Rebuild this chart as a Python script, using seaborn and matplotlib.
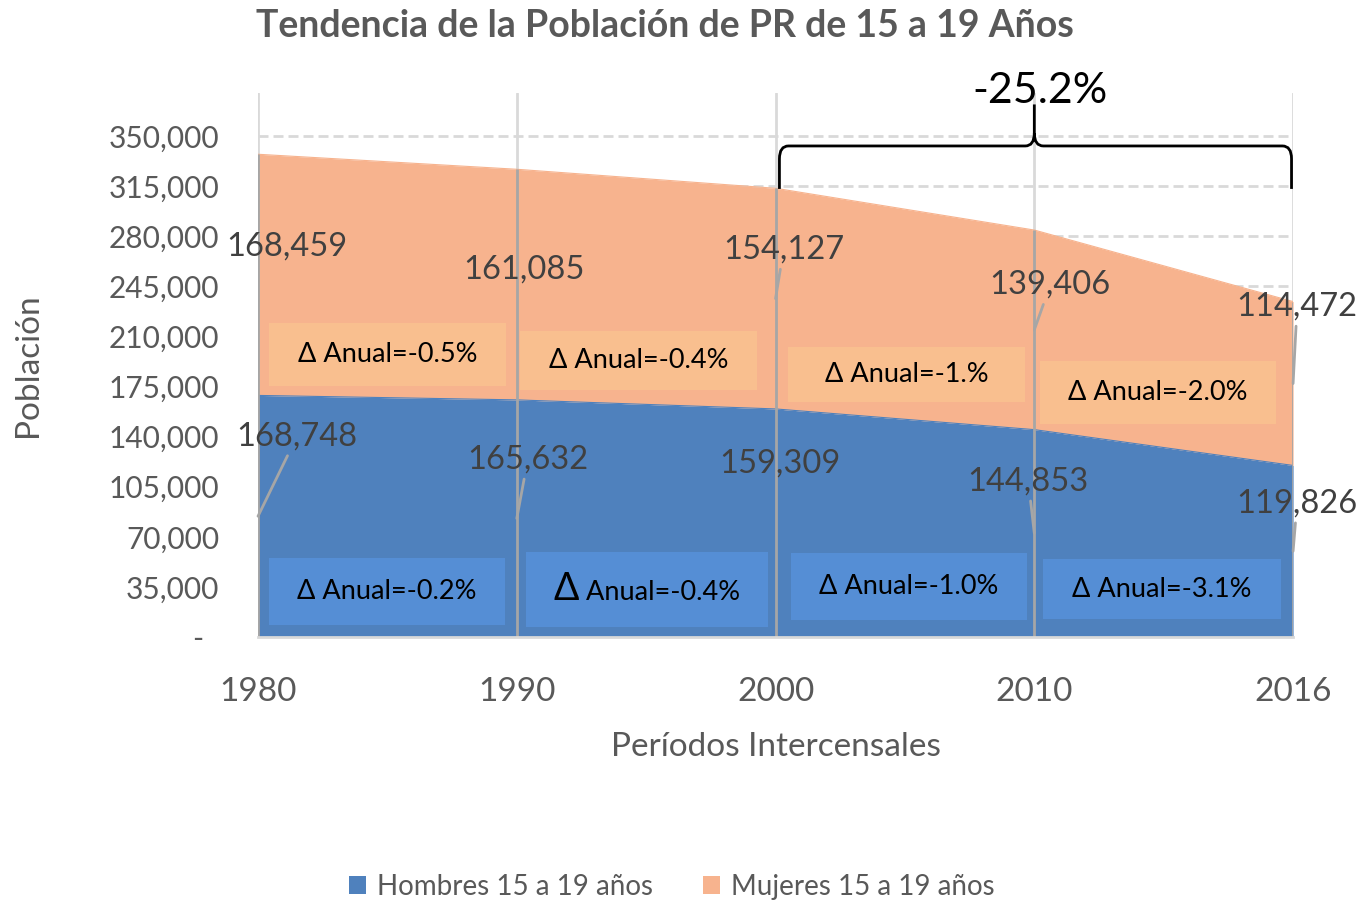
import numpy as np
import pandas as pd
import matplotlib
matplotlib.use("Agg")
import matplotlib.pyplot as plt
import seaborn as sns
from matplotlib.path import Path
from matplotlib.patches import PathPatch, Rectangle, Patch

# ---------------- data ----------------
years = ["1980", "1990", "2000", "2010", "2016"]
hombres = [168748, 165632, 159309, 144853, 119826]
mujeres = [168459, 161085, 154127, 139406, 114472]
tasa_hombres = ["-0.2%", "-0.4%", "-1.0%", "-3.1%"]
tasa_mujeres = ["-0.5%", "-0.4%", "-1.%", "-2.0%"]
cambio_total = "-25.2%"
serie_h = "Hombres 15 a 19 años"
serie_m = "Mujeres 15 a 19 años"

# ---------------- style ----------------
BLUE = "#4F81BD"
ORANGE = "#F7B38E"
BLUE_BOX = "#558ED5"
ORANGE_BOX = "#F9BF8F"
GRID = "#D9D9D9"
DROP = "#A6A6A6"
TXT = "#595959"
LBL = "#404040"

sns.set_theme(style="white")
plt.rcParams["font.family"] = ["Lato", "DejaVu Sans"]

fig = plt.figure(figsize=(13.63, 9.02), dpi=100)
ax = fig.add_axes([0.1893, 0.2938, 0.7594, 0.6031])

x = np.arange(len(years))
h = np.array(hombres)
m = np.array(mujeres)
tot = h + m
df = pd.DataFrame({"x": x, "Hombres": h, "Total": tot})

ax.fill_between(x, 0, h, color=BLUE, lw=0, zorder=2)
ax.fill_between(x, h, tot, color=ORANGE, lw=0, zorder=2)
sns.lineplot(data=df, x="x", y="Hombres", ax=ax, color=BLUE, lw=0.8, zorder=2)
sns.lineplot(data=df, x="x", y="Total", ax=ax, color=ORANGE, lw=0.8, zorder=2)

# drop lines on top of the areas
ax.vlines(x, 0, tot, color=DROP, lw=2, zorder=3)

ax.set_xlim(0, len(years) - 1)
ax.set_ylim(0, 380000)
yt = np.arange(0, 350001, 35000)
ax.set_yticks(yt)
ax.set_yticklabels(["-  " if v == 0 else f"{v:,.0f}" for v in yt])
ax.set_xticks(x)
ax.set_xticklabels(years)

ax.set_axisbelow(True)
ax.yaxis.grid(True, color=GRID, lw=2, ls=(0, (3.6, 1.8)))
ax.xaxis.grid(True, color=GRID, lw=2, ls="-")
for s in ["top", "right", "left"]:
    ax.spines[s].set_visible(False)
ax.spines["bottom"].set_color(GRID)
ax.spines["bottom"].set_linewidth(2)
ax.spines["bottom"].set_zorder(4)

ax.tick_params(axis="y", length=0, pad=28, labelsize=21.5, labelcolor=TXT)
ax.tick_params(axis="x", length=9, width=2, color=GRID, direction="out",
               pad=20, labelsize=24, labelcolor=TXT)

ax.set_xlabel("Períodos Intercensales", fontsize=24, color=TXT)
ax.xaxis.set_label_coords(0.5, -0.202)
ax.xaxis.label.set_va("center")
ax.set_ylabel("Población", fontsize=24, color=TXT)
ax.yaxis.set_label_coords(-0.222, 0.5)
ax.yaxis.label.set_va("center")

fig.text(665 / 1363, 1 - 26 / 902, "Tendencia de la Población de PR de 15 a 19 Años",
         ha="center", va="center", fontsize=27, fontweight="bold", color=TXT)

# ---------------- data labels ----------------
px2pt = 0.72
off_h = [(39, -80), (11, -59), (4.5, -59), (-6, -52), (4, -48)]
off_m = [(29, -28), (7, -15), (8, -49), (16, -45), (4, -77)]
lead_h = [True, True, False, True, True]
lead_m = [False, False, True, True, True]

def put_label(i, yv, val, off, lead):
    kw = dict(xy=(i, yv), xytext=(off[0] * px2pt, -off[1] * px2pt),
              textcoords="offset points", ha="center", va="center",
              fontsize=23.5, color=LBL, zorder=6, annotation_clip=False)
    if lead:
        kw["arrowprops"] = dict(arrowstyle="-", color=DROP, lw=2,
                                shrinkA=1, shrinkB=0)
    ax.annotate(f"{val:,}", **kw)

for i in x:
    put_label(i, h[i] / 2, hombres[i], off_h[i], lead_h[i])
    put_label(i, h[i] + m[i] / 2, mujeres[i], off_m[i], lead_m[i])

# ---------------- annual change boxes ----------------
box_m = [(0.5005, 197310, 0.916, 44620), (1.4705, 193127, 0.916, 41832),
         (2.506, 183365, 0.916, 39043), (3.478, 170815, 0.912, 44620)]
box_h = [(0.4986, 31723, 0.912, 46712), (1.503, 33117, 0.935, 52290),
         (2.516, 35209, 0.912, 46712), (3.494, 33466, 0.920, 41832)]
BOX_FS = 19.5

def put_box(spec, txt, fc, big_delta=False):
    cx, cy, w, hh = spec
    ax.add_patch(Rectangle((cx - w / 2, cy - hh / 2), w, hh, facecolor=fc,
                           edgecolor="none", zorder=4))
    if not big_delta:
        ax.text(cx, cy, "Δ Anual=" + txt, ha="center", va="center",
                fontsize=BOX_FS, color="black", zorder=5)
        return
    base = cy - 7000
    t1 = ax.text(cx, base, "Δ", ha="left", va="baseline", fontsize=27,
                 color="black", zorder=5)
    t2 = ax.text(cx, base, " Anual=" + txt, ha="left", va="baseline",
                 fontsize=BOX_FS, color="black", zorder=5)
    fig.canvas.draw()
    r = fig.canvas.get_renderer()
    w1 = t1.get_window_extent(r).width
    w2 = t2.get_window_extent(r).width
    ppu = ax.get_window_extent(r).width / (len(years) - 1)
    left = cx - (w1 + w2) / 2 / ppu
    t1.set_x(left)
    t2.set_x(left + w1 / ppu)

for k in range(4):
    put_box(box_m[k], tasa_mujeres[k], ORANGE_BOX)
    put_box(box_h[k], tasa_hombres[k], BLUE_BOX, big_delta=(k == 1))

# ---------------- brace ----------------
x0, x1, xm = 2 + 0.015, 4 - 0.006, 3.0
y_end, y_bar, y_top = 313000, 343000, 372000
rx, ry = 0.035, 9000
verts = [
    (x0, y_end), (x0, y_bar - ry), (x0, y_bar), (x0 + rx, y_bar),
    (xm - rx, y_bar), (xm, y_bar), (xm, y_bar + ry), (xm, y_top),
    (xm, y_bar + ry), (xm, y_bar), (xm + rx, y_bar),
    (x1 - rx, y_bar), (x1, y_bar), (x1, y_bar - ry), (x1, y_end),
]
codes = [Path.MOVETO, Path.LINETO, Path.CURVE3, Path.CURVE3,
         Path.LINETO, Path.CURVE3, Path.CURVE3, Path.LINETO,
         Path.MOVETO, Path.CURVE3, Path.CURVE3,
         Path.LINETO, Path.CURVE3, Path.CURVE3, Path.LINETO]
ax.add_patch(PathPatch(Path(verts, codes), facecolor="none", edgecolor="black",
                       lw=2, zorder=6, clip_on=False))
ax.text(3.022, 381400, cambio_total, ha="center", va="center", fontsize=31,
        color="black", zorder=7, clip_on=False)

# ---------------- legend ----------------
handles = [Patch(facecolor=BLUE, edgecolor="none", label=serie_h),
           Patch(facecolor=ORANGE, edgecolor="none", label=serie_m)]
fig.legend(handles=handles, loc="center", bbox_to_anchor=(0.493, 1 - 887 / 902),
           ncol=2, frameon=False, fontsize=20, labelcolor=TXT,
           handlelength=0.6, handleheight=0.6, handletextpad=0.4,
           columnspacing=1.8)

fig.savefig("out.png", dpi=100)
